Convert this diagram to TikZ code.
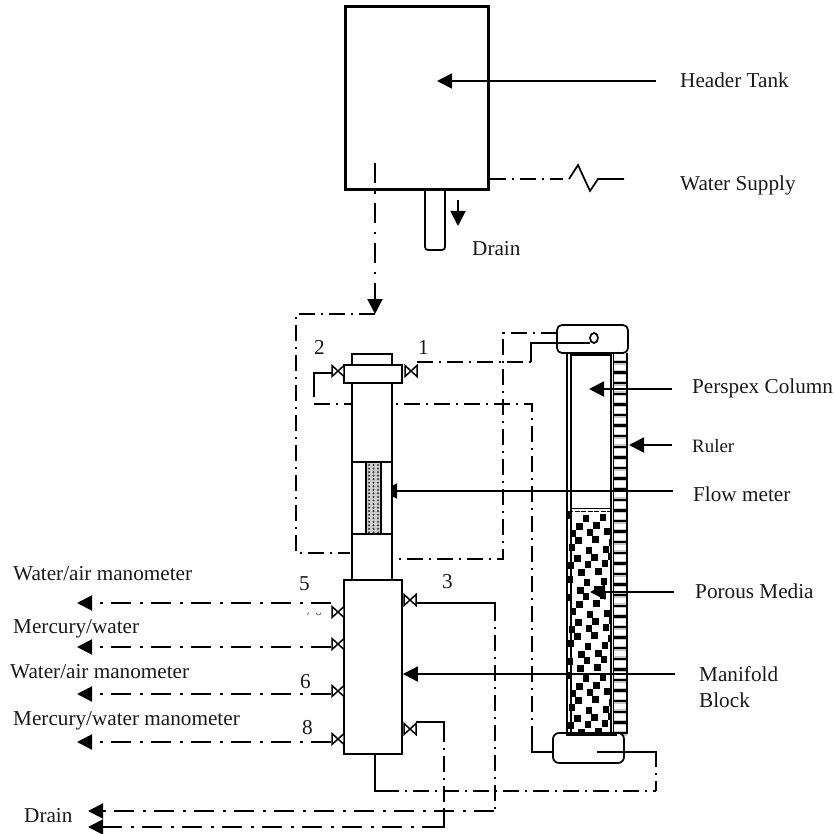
\documentclass[tikz,border=0pt]{standalone}
\usepackage{fontspec}
\setmainfont{Liberation Serif}
\usetikzlibrary{arrows.meta}
\newcommand{\valveL}[2]{\draw[valve] (#1,#2-5.5) -- (#1+12,#2+5.5) -- (#1+12,#2-5.5) -- (#1,#2+5.5) -- cycle;}
\begin{document}
\begin{tikzpicture}[x=1pt,y=-1pt,
  thin wall/.style={draw=black,line width=1.8pt,fill=none},
  pipe/.style={draw=black,line width=1.7pt},
  dd/.style={draw=black,line width=2.1pt,dash pattern=on 20pt off 8.5pt on 2.6pt off 8.9pt},
  ddt/.style={draw=black,line width=1.7pt,dash pattern=on 16pt off 6pt on 2.2pt off 5.8pt},
  valve/.style={draw=black,line width=1.5pt,fill=white},
  lead/.style={draw=black,line width=1.9pt,-{Triangle[length=15pt,width=15pt]}},
  flowtip/.style={-{Triangle[length=15pt,width=15pt]}},
  backtip/.style={{Triangle[length=15pt,width=15pt]}-},
  txt/.style={font=\fontsize{21.2pt}{23pt}\selectfont,inner sep=0pt,anchor=base west,text=black!90}]
\useasboundingbox (0,0) rectangle (833,834);
\fill[white] (0,0) rectangle (833,834);

% named points
\coordinate (hLead) at (656,81); \coordinate (hTip) at (437,81);
\coordinate (feedTop) at (375,163); \coordinate (feedBot) at (375,314);

% header tank
\node[draw,line width=3pt,inner sep=0pt,minimum width=143pt,minimum height=183pt] (tank) at (416.5,98.5) {};
\draw[lead] (hLead) -- (hTip);
% water supply
\draw[ddt] (tank.east |- 0,179) -- (563,179);
\draw[pipe] (569,179) -- (578,165) -- (590,191) -- (598,179) -- (624,179);
% drain stub
\draw[pipe,rounded corners=3pt] (425,191) -- (425,250) -- (445,250) -- (445,191);
\draw[draw=black,line width=1.9pt,flowtip] (458,200) -- (458,226);
% feed
\draw[dd,flowtip] (feedTop) -- (feedBot);
\draw[ddt] (feedBot) -- (296,314) -- (296,553) -- (350,553);

% column
\draw[thin wall] (352,354) rectangle (392,365);
\draw[thin wall] (344,365) rectangle (402,383);
\draw[thin wall] (352,383) -- (352,580) (392,383) -- (392,580);
\draw[thin wall] (352,462) -- (392,462) (352,534) -- (392,534);
% flow meter packing
\fill[black!18] (366,462) rectangle (381,534);
\foreach \r in {0,...,19}{\foreach \c in {0,1,2}{
  \fill[black!75] (369+\c*4.5,465+\r*3.55) circle[radius=1.2pt];}}
\draw[thin wall] (366,462) rectangle (381,534);

% valves 1 and 2
\draw[pipe] (332,373) -- (314,373) -- (314,388);
\draw[ddt,dash phase=4pt] (314,388) -- (314,397);
\draw[ddt] (314,404) -- (351,404);
\draw[ddt,dash phase=22pt] (396,404) -- (532,404) -- (532,737);
\draw[pipe] (532,737) -- (532,752) -- (553,752);
\valveL{332}{371}
\valveL{405}{371}
\draw[ddt] (417,362) -- (531,362);
\draw[pipe] (531,362) -- (531,343) -- (590,343);
% second return
\draw[ddt] (557,333) -- (503,333) -- (503,559) -- (395,559);

% ruler
\foreach \r in {0,...,35}{
  \fill[black!22] (613,359.5+\r*10.6) rectangle (627,364.5+\r*10.6);
  \draw[line width=2.4pt] (613,362+\r*10.6) -- (627,362+\r*10.6);}
\draw[line width=1.7pt] (627,353) -- (627,733) -- (613,733);

% porous bed
\begin{scope}
\clip (568,512) rectangle (611,733);
\foreach \r [evaluate=\r as \off using {mod(\r,2)*8.5}] in {0,...,27}{\foreach \c in {0,...,3}{
  \pgfmathsetmacro{\xx}{571+\c*17+\off+mod(\r*7+\c*5,5)-2}
  \pgfmathsetmacro{\yy}{517+\r*8+mod(\r*3+\c*7,4)-1.5}
  \fill[black] (\xx-3.1,\yy-3.1) rectangle (\xx+3.1,\yy+3.1);}}
\end{scope}

% perspex walls
\draw[line width=1.7pt] (566.8,353) -- (566.8,735);
\draw[line width=2.8pt] (571,353) -- (571,735);
\draw[line width=2.8pt] (611,353) -- (611,735);
\draw[line width=1.7pt] (613.5,353) -- (613.5,735);
\draw[line width=1.7pt] (571,355) -- (611,355);
\draw[line width=1.9pt] (571,508.5) -- (611,508.5);
\draw[line width=1.5pt,dash pattern=on 5pt off 1.5pt] (568,511.5) -- (613,511.5);

% end caps
\node[draw,line width=1.7pt,rounded corners=5pt,fill=white,inner sep=0pt,minimum width=71pt,minimum height=28pt] (capT) at (592.5,339) {};
\node[draw,line width=1.7pt,rounded corners=6pt,fill=white,inner sep=0pt,minimum width=71pt,minimum height=30pt] (capB) at (588.5,748) {};
\draw[line width=2.8pt] (566,735) -- (617,735);
\draw[line width=1.7pt] (594,338) ellipse[x radius=4pt,y radius=5pt];
\draw[pipe] (531,343) -- (590,343);
\draw[pipe] (597,752) -- (656,752) -- (656,767);
\draw[ddt,dash phase=16pt] (656,767) -- (656,791);

% manifold
\node[draw,line width=1.8pt,fill=white,inner sep=0pt,minimum width=58pt,minimum height=174pt] (mani) at (373,667) {};
\foreach \y in {612,644,691,739}{\valveL{332}{\y}}
\foreach \y in {600,729}{\draw[valve] (404,\y-5.5) -- (416,\y+5.5) -- (416,\y-5.5) -- (404,\y+5.5) -- cycle;}

% manometer lines
\coordinate (m1) at (77,603); \coordinate (m2) at (77,647);
\coordinate (m3) at (77,694); \coordinate (m4) at (77,742);
\foreach \p/\q in {m1/603,m2/647,m3/694,m4/742}{
  \draw[dd,backtip,dash phase=20pt] (\p) -- (333,\q);}
% clipped remnant of a hidden label
\draw[line width=0.6pt,black!70] (308.5,612.5) -- (307.5,615);
\draw[line width=0.6pt,black!70] (316,612.5) arc[start angle=180,end angle=360,radius=2.5pt];

% drains
\coordinate (d1) at (88,811); \coordinate (d2) at (88,827);
\draw[pipe] (416,603) -- (495,603) -- (495,615);
\draw[ddt,dash phase=10pt] (495,615) -- (495,811);
\draw[dd,backtip,dash phase=28pt] (d1) -- (496,811);
\draw[pipe] (416,722) -- (444,722) -- (444,736);
\draw[ddt,dash phase=10pt] (444,736) -- (444,812);
\draw[dd,backtip] (d2) -- (425,827);
\draw[pipe] (425,827) -- (444,827) -- (444,812);
\draw[pipe] (375,754) -- (375,791) -- (387,791);
\draw[ddt,dash phase=4pt] (387,791) -- (656,791);

% leaders
\coordinate (lp) at (672,389); \coordinate (lr) at (672,445);
\coordinate (lf) at (673,491); \coordinate (lm) at (674,592);
\coordinate (lb) at (675,674);
\draw[lead] (lp) -- (589,389);
\draw[lead] (lr) -- (629,445);
\begin{scope}
\clip (392,470) rectangle (700,510);
\draw[lead] (lf) -- (382,491);
\end{scope}
\draw[lead] (lm) -- (590,592);
\draw[lead] (lb) -- (mani.east |- lb);

% labels
\node[txt] (lHeader) at (680,88) {Header Tank};
\node[txt] (lSupply) at (680,191) {Water Supply};
\node[txt] (lDrainA) at (472,255) {Drain};
\node[txt] (lPersp) at (692,393) {Perspex Column};
\node[txt,font=\fontsize{18.9pt}{20pt}\selectfont] (lRuler) at (692,452) {Ruler};
\node[txt] (lFlow) at (693,501) {Flow meter};
\node[txt] (lPor) at (695,598) {Porous Media};
\node[txt] (lMan) at (699,681) {Manifold};
\node[txt] (lBlock) at (699,707) {Block};
\node[txt] (lA) at (13,580) {Water/air manometer};
\node[txt] (lB) at (13,633) {Mercury/water};
\node[txt] (lC) at (10,678) {Water/air manometer};
\node[txt] (lD) at (13,725) {Mercury/water manometer};
\node[txt] (lDrainB) at (24,822) {Drain};
\node[txt] (n2) at (314,354) {2};
\node[txt] (n1) at (418,354) {1};
\node[txt] (n5) at (299,590) {5};
\node[txt] (n3) at (442,588) {3};
\node[txt] (n6) at (300,688) {6};
\node[txt] (n8) at (302,734) {8};
\end{tikzpicture}
\end{document}
